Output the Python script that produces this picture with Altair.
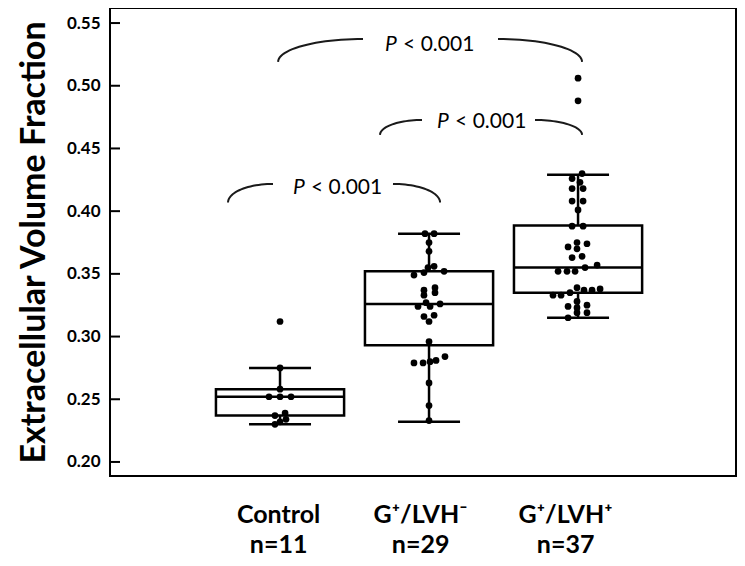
import altair as alt
import pandas as pd
import numpy as np

# ---------------- data ----------------
groups = ["Control", "G⁺/LVH⁻", "G⁺/LVH⁺"]
counts = [11, 29, 37]
centers = [1, 2, 3]

# box-plot statistics
whisk_lo = [0.230, 0.232, 0.315]
q1 = [0.237, 0.293, 0.335]
median = [0.252, 0.326, 0.355]
q3 = [0.258, 0.352, 0.3885]
whisk_hi = [0.275, 0.382, 0.429]

# individual patients (ECV) and their horizontal swarm offsets
control_ecv = [0.312, 0.275, 0.258, 0.252, 0.252, 0.252, 0.237, 0.239, 0.234, 0.230, 0.232]
control_jit = [0, 0, 0, -0.074, 0, 0.074, -0.034, 0.034, 0.04, -0.034, 0]

lvhneg_ecv = [0.382, 0.382, 0.375, 0.368, 0.349, 0.351, 0.355, 0.356, 0.352,
              0.337, 0.339, 0.335, 0.333, 0.324, 0.327, 0.324, 0.326, 0.316,
              0.317, 0.312, 0.296, 0.279, 0.279, 0.280, 0.281, 0.284, 0.263,
              0.245, 0.233]
lvhneg_jit = [-0.027, 0.034, 0, 0, -0.101, -0.034, -0.007, 0.034, 0.101,
              -0.034, 0.04, 0.04, -0.034, -0.074, -0.02, 0.007, 0.074, -0.034,
              0.034, 0, 0, -0.101, -0.04, 0.007, 0.047, 0.107, 0,
              0, 0]

lvhpos_ecv = [0.506, 0.488,
              0.430, 0.426, 0.423, 0.418, 0.418, 0.408, 0.408, 0.401, 0.388, 0.388,
              0.3715, 0.375, 0.374, 0.370, 0.363, 0.364,
              0.352, 0.352, 0.352, 0.355, 0.357,
              0.333, 0.333, 0.335, 0.339, 0.337, 0.337, 0.338,
              0.324, 0.328, 0.323, 0.325, 0.315, 0.319, 0.319]
lvhpos_jit = [0, 0,
              0.027, -0.04, 0.013, -0.04, 0.034, -0.04, 0.034, 0, -0.04, 0.034,
              -0.067, -0.007, 0.06, -0.007, -0.04, 0.027,
              -0.134, -0.074, -0.02, 0.047, 0.128,
              -0.168, -0.114, -0.054, -0.007, 0.04, 0.094, 0.148,
              -0.067, -0.007, -0.007, 0.06, -0.067, -0.007, 0.06]

y_ticks = [0.20, 0.25, 0.30, 0.35, 0.40, 0.45, 0.50, 0.55]

# significance brackets (left end, left inner end, right inner end, right end)
br_x1 = [0.651, 1.671, 0.987]
br_xa = [0.953, 1.953, 1.557]
br_xb = [1.758, 2.711, 2.463]
br_x2 = [2.074, 3.027, 3.027]
br_ylow = [0.4069, 0.4608, 0.519]
br_yhigh = [0.4217, 0.4727, 0.5373]
p_text_x = [1.087, 2.054, 1.705]
p_text_y = [0.4185, 0.4711, 0.5325]
p_label = ["< 0.001", "< 0.001", "< 0.001"]

# ---------------- layout constants ----------------
FONT = "Lato"
BOX_HALF = 0.43
CAP_HALF = 0.208
label_pos = [0.987, 1.94, 2.913]

# ---------------- tables ----------------
rows = []
for g, c, vals, offs in zip(groups, centers,
                            [control_ecv, lvhneg_ecv, lvhpos_ecv],
                            [control_jit, lvhneg_jit, lvhpos_jit]):
    for v, o in zip(vals, offs):
        rows.append({"group": g, "x": c + o, "ecv": v})
points = pd.DataFrame(rows)

box = pd.DataFrame({"group": groups, "c": centers, "lo": whisk_lo, "q1": q1,
                    "med": median, "q3": q3, "hi": whisk_hi})
box["bl"] = box["c"] - BOX_HALF
box["br"] = box["c"] + BOX_HALF
box["cl"] = box["c"] - CAP_HALF
box["cr"] = box["c"] + CAP_HALF

ticks_df = pd.DataFrame({"t": y_ticks})

t = np.linspace(0, np.pi / 2, 25)
brows = []
for i in range(len(br_x1)):
    for k, tt in enumerate(t):
        brows.append({"seg": f"{i}L", "k": k,
                      "x": br_xa[i] - (br_xa[i] - br_x1[i]) * np.cos(tt),
                      "y": br_ylow[i] + (br_yhigh[i] - br_ylow[i]) * np.sin(tt)})
        brows.append({"seg": f"{i}R", "k": k,
                      "x": br_xb[i] + (br_x2[i] - br_xb[i]) * np.sin(tt),
                      "y": br_ylow[i] + (br_yhigh[i] - br_ylow[i]) * np.cos(tt)})
brackets = pd.DataFrame(brows)
ptext = pd.DataFrame({"x": p_text_x, "y": p_text_y, "lab": p_label})

# ---------------- scales / axes ----------------
xs = alt.Scale(domain=[-0.141, 4.06], nice=False, zero=False)
ys = alt.Scale(domain=[0.1888, 0.562], nice=False, zero=False)

expr = ""
for g, n, p in zip(groups, counts, label_pos):
    expr += f"abs(datum.value - {p}) < 0.1 ? ['{g}', 'n={n}'] : "
expr += "''"

x_axis = alt.Axis(values=label_pos, labelExpr=expr, ticks=False, domain=False,
                  grid=False, labelFont=FONT, labelFontSize=25,
                  labelFontWeight="bold", labelColor="black", labelPadding=26,
                  labelLineHeight=30, labelBaseline="top", labelOverlap=False,
                  labelFlush=False, title="")
y_axis = alt.Axis(values=y_ticks, format=".2f", ticks=False, domain=False,
                  grid=False, labelFont=FONT, labelFontSize=17,
                  labelFontWeight="bold", labelColor="black", labelPadding=10,
                  title="Extracellular Volume Fraction", titleFont=FONT,
                  titleFontSize=34, titleFontWeight="bold", titleColor="black",
                  titlePadding=15)


def X(field):
    return alt.X(field, scale=xs, axis=x_axis)


def Y(field):
    return alt.Y(field, scale=ys, axis=y_axis)


base_box = alt.Chart(box)

rect = base_box.mark_rect(fill="white", stroke="black", strokeWidth=2.5).encode(
    x=X("bl:Q"), x2="br:Q", y=Y("q1:Q"), y2="q3:Q")
med_rule = base_box.mark_rule(color="black", strokeWidth=2.5).encode(
    x=X("bl:Q"), x2="br:Q", y=Y("med:Q"))
wh_up = base_box.mark_rule(color="black", strokeWidth=2.5).encode(
    x=X("c:Q"), y=Y("q3:Q"), y2="hi:Q")
wh_lo = base_box.mark_rule(color="black", strokeWidth=2.5).encode(
    x=X("c:Q"), y=Y("lo:Q"), y2="q1:Q")
cap_hi = base_box.mark_rule(color="black", strokeWidth=2.5).encode(
    x=X("cl:Q"), x2="cr:Q", y=Y("hi:Q"))
cap_lo = base_box.mark_rule(color="black", strokeWidth=2.5).encode(
    x=X("cl:Q"), x2="cr:Q", y=Y("lo:Q"))

dots = alt.Chart(points).mark_circle(size=45, color="black", opacity=1).encode(
    x=X("x:Q"), y=Y("ecv:Q"))

inner_ticks = alt.Chart(ticks_df).mark_rule(color="black", strokeWidth=2).encode(
    x=alt.value(0), x2=alt.value(10), y=Y("t:Q"))

bracket_lines = alt.Chart(brackets).mark_line(color="#1a1a1a", strokeWidth=2).encode(
    x=X("x:Q"), y=Y("y:Q"), detail="seg:N", order="k:Q")

p_italic = alt.Chart(ptext).mark_text(
    text="P", font=FONT, fontSize=21, fontStyle="italic", align="left",
    baseline="middle", color="black").encode(x=X("x:Q"), y=Y("y:Q"))
p_rest = alt.Chart(ptext).mark_text(
    font=FONT, fontSize=21, align="left", baseline="middle", dx=18,
    color="black").encode(x=X("x:Q"), y=Y("y:Q"), text="lab:N")

chart = alt.layer(
    rect, med_rule, wh_up, wh_lo, cap_hi, cap_lo, inner_ticks,
    bracket_lines, p_italic, p_rest, dots,
).properties(
    width=626, height=468,
    autosize=alt.AutoSizeParams(type="none"),
    padding={"left": 102, "top": 0, "right": 1, "bottom": 82},
).configure_view(stroke="black", strokeWidth=2)

chart.save("out.html", embed_options={"renderer": "svg", "actions": False})
